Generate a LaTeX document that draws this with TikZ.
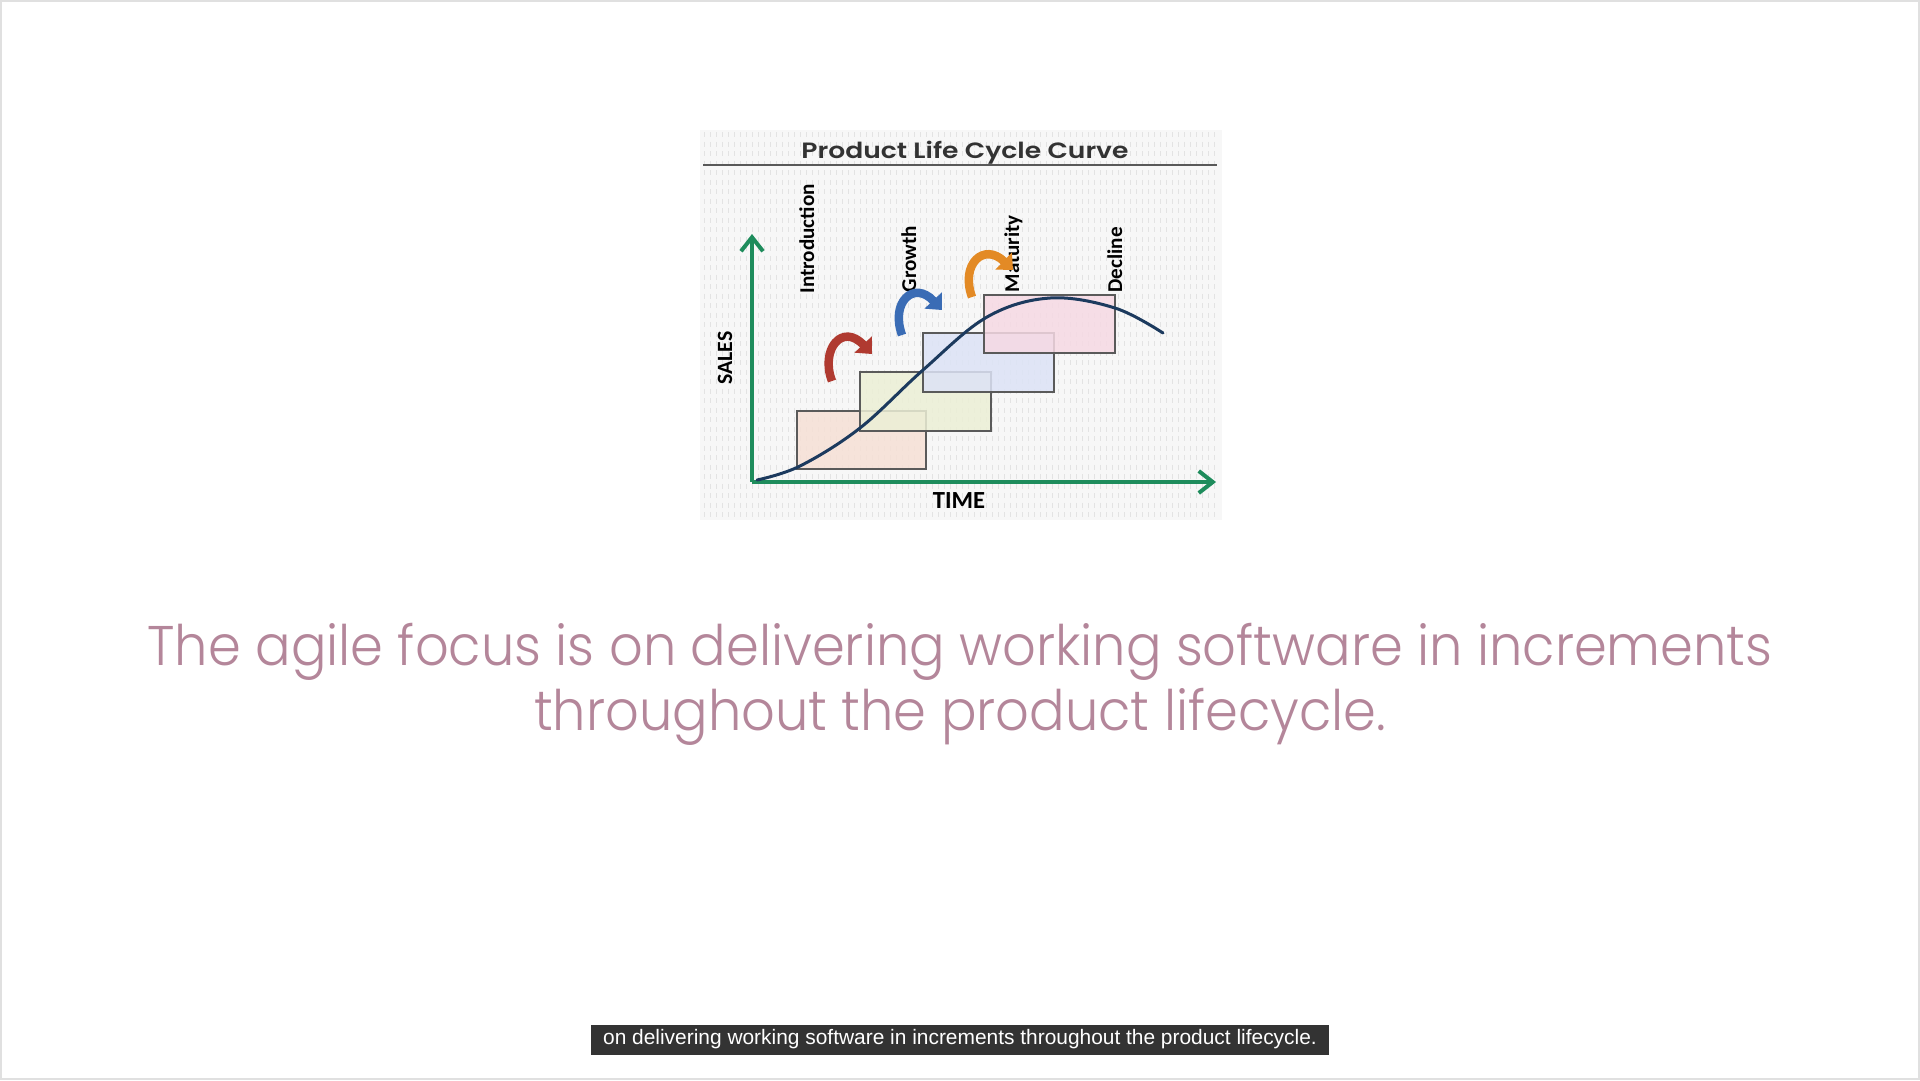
\documentclass[tikz,border=0pt]{standalone}
\usepackage{fontspec}
\setmainfont{Liberation Sans}
\newfontfamily\bodyfont[FakeStretch=0.943]{Poppins Light}
\newfontfamily\titlefont[FakeStretch=1.2]{Poppins SemiBold}
\newfontfamily\labelfont{Carlito}
\usetikzlibrary{arrows.meta}

\definecolor{axisgreen}{HTML}{1E8C5C}
\definecolor{curvenavy}{HTML}{1C3A5E}
\definecolor{arrred}{HTML}{B03A30}
\definecolor{arrblue}{HTML}{3A6CB5}
\definecolor{arrorange}{HTML}{E38A25}
\definecolor{boxedge}{HTML}{5A5A5A}
\definecolor{fillA}{HTML}{F6E0D6}
\definecolor{fillB}{HTML}{ECEFD6}
\definecolor{fillC}{HTML}{DDE3F6}
\definecolor{fillD}{HTML}{F6D9E4}
\definecolor{bodycol}{HTML}{B4869A}
\definecolor{capbg}{HTML}{333333}
\definecolor{titlecol}{HTML}{333333}

\tikzset{
  axis/.style={draw=axisgreen, line width=0.4mm, -{Straight Barb[length=1.4mm, width=2.2mm, line width=0.4mm]}},
  stage/.style={draw=boxedge, line width=0.2mm, fill opacity=0.85},
  phase/.style={rotate=90, anchor=base west, inner sep=0, font=\labelfont\bfseries\fontsize{6}{7}\selectfont},
  turn/.style={line width=0.85mm, -{Triangle[length=1.3mm, width=2.3mm]}},
  bodytext/.style={anchor=base, inner sep=0, text=bodycol, font=\bodyfont\fontsize{15.9}{18}\selectfont},
}

\begin{document}
\begin{tikzpicture}[x=0.1mm, y=-0.1mm]
\useasboundingbox (0,0) rectangle (1920,1080);
\fill[white] (0,0) rectangle (1920,1080);
\draw[black!12, line width=0.2mm] (1,1) rectangle (1919,1079);

% canvas-textured chart backdrop
\fill[black!3] (700,130) rectangle (1222,520);
\foreach \x in {704,710,...,1218}
  \draw[black!11, line width=0.07mm, dash pattern=on 0.5mm off 0.45mm] (\x,132) -- (\x,518);

% title and rule
\node[anchor=base, inner sep=0, text=titlecol, font=\titlefont\fontsize{6.3}{7}\selectfont] (title) at (965,158) {Product Life Cycle Curve};
\coordinate (ruleL) at (703,165);
\coordinate (ruleR) at (1217,165);
\draw[black!65, line width=0.15mm] (ruleL) -- (ruleR);

% axes
\coordinate (O) at (752,482);
\coordinate (ytip) at (752,234);
\coordinate (xtip) at (1216,482);
\draw[axis] (O) -- (ytip);
\draw[axis] (O) -- (xtip);

\node[rotate=90, inner sep=0, font=\labelfont\bfseries\fontsize{6.2}{7}\selectfont] (sales) at (725,358) {SALES};
\node[inner sep=0, font=\labelfont\bfseries\fontsize{7}{8}\selectfont] (time) at (959,501) {TIME};

% overlapping increments
\draw[stage, fill=fillA] (797,411) rectangle (926,469);
\draw[stage, fill=fillB] (860,372) rectangle (991,431);
\draw[stage, fill=fillC] (923,333) rectangle (1054,392);
\draw[stage, fill=fillD] (984,295) rectangle (1115,353);

% sales curve
\draw[curvenavy, line width=0.3mm, line cap=round] plot[smooth, tension=0.6] coordinates
  {(757,480) (800,466) (860,428) (923,370) (987,317) (1050,298) (1115,308) (1163,333)};

% phase labels
\node[phase] (intro) at (814,294) {Introduction};
\node[phase] (growth) at (916,293) {Growth};
\node[phase] (maturity) at (1019,293) {Maturity};
\node[phase] (decline) at (1122,293) {Decline};

% iteration arrows
\draw[turn, arrred] (832,381) .. controls (820,350) and (842,322) .. (872,354);
\draw[turn, arrblue] (902,335) .. controls (890,302) and (914,280) .. (942,310);
\draw[turn, arrorange] (972,297) .. controls (960,264) and (984,242) .. (1013,270);

% statement
\node[bodytext] (line1) at (960,665) {The agile focus is on delivering working software in increments};
\node[bodytext] (line2) at (960,730) {throughout the product lifecycle.};

% caption bar
\node[fill=capbg, text=white, inner sep=0, minimum width=73.8mm, minimum height=3mm, font=\fontsize{5.95}{6.5}\selectfont] (caption) at (960,1039.5) {on delivering working software in increments throughout the product lifecycle.};
\end{tikzpicture}
\end{document}
